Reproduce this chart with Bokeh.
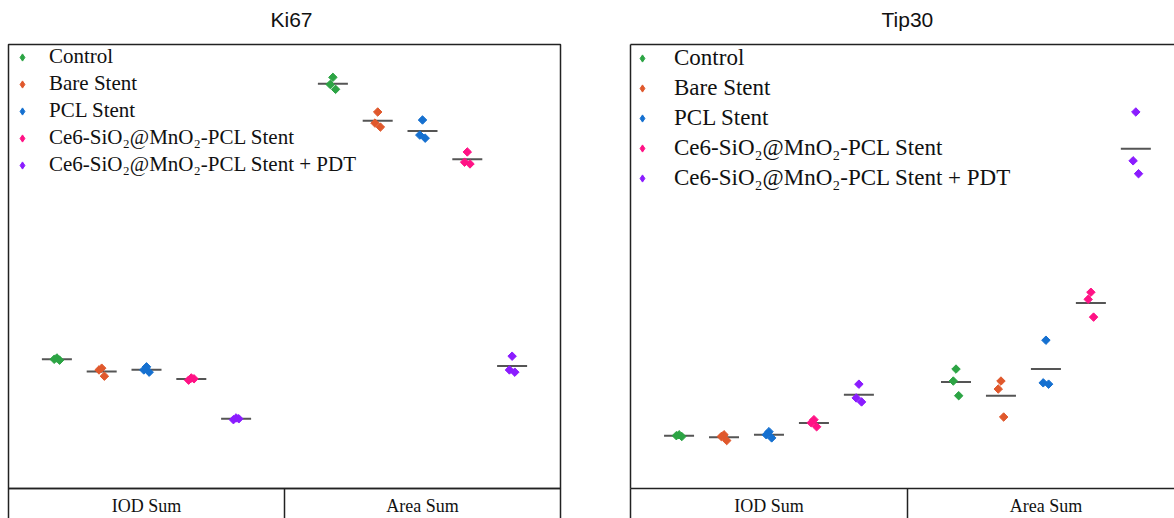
import numpy as np
from bokeh.plotting import figure
from bokeh.models import (FixedTicker, LinearAxis, Range1d, Legend, LegendItem)
from bokeh.layouts import row
from bokeh.embed import file_html
from bokeh.resources import INLINE

# ---------------- data ----------------
groups = ["IOD Sum", "Area Sum"]
treatments = ["Control", "Bare Stent", "PCL Stent",
              "Ce6-SiO\u2082@MnO\u2082-PCL Stent",
              "Ce6-SiO\u2082@MnO\u2082-PCL Stent + PDT"]
colors = ["#2ca444", "#e0582c", "#1570d0", "#ff1285", "#8b1cff"]

# Ki67 (relative units): [IOD Sum replicates], [Area Sum replicates]
ki67_control = [[29.4, 29.1, 28.9], [92.6, 91.0, 89.9]]
ki67_bare    = [[27.1, 26.7, 25.3], [84.8, 82.3, 81.4]]
ki67_pcl     = [[27.4, 26.7, 26.2], [83.0, 79.6, 78.9]]
ki67_ce6     = [[24.9, 24.4, 24.7], [75.8, 73.5, 73.1]]
ki67_pdt     = [[15.9, 15.5, 15.7], [29.8, 26.7, 26.2]]

# Tip30 (relative units)
tip30_control = [[12.1, 11.9, 11.7], [26.9, 24.2, 20.9]]
tip30_bare    = [[12.1, 11.7, 10.8], [24.2, 22.4, 16.1]]
tip30_pcl     = [[12.8, 12.1, 11.4], [33.4, 23.8, 23.5]]
tip30_ce6     = [[15.5, 14.8, 13.9], [44.2, 42.6, 38.6]]
tip30_pdt     = [[23.5, 20.4, 19.5], [84.8, 73.8, 70.9]]

ki67 = [ki67_control, ki67_bare, ki67_pcl, ki67_ce6, ki67_pdt]
tip30 = [tip30_control, tip30_bare, tip30_pcl, tip30_ce6, tip30_pdt]

jitter = [0.0, -0.06, 0.06]

# layout of categorical positions (units = one treatment slot)
EDGE = 1.08
GW = 2 * EDGE + len(treatments) - 1   # width of one group

SERIF = "Liberation Serif"
BORDER = "#222222"


def border_axis(color, gap=False):
    ax = LinearAxis(ticker=FixedTicker(ticks=[]),
                    major_label_text_font_size="0px",
                    major_tick_in=0, major_tick_out=0,
                    minor_tick_in=0, minor_tick_out=0,
                    major_label_standoff=0,
                    axis_line_color=color, axis_line_width=1.5)
    if gap:
        # empty axis label used only as spacing between frame and title
        ax.axis_label = " "
        ax.axis_label_standoff = 0
        ax.axis_label_text_font_size = "5px"
    return ax


def make_panel(title, data, width, x_end, mb_left, mb_right, title_offset,
               leg_font, leg_pad, leg_gw, leg_lh, leg_spacing, leg_standoff,
               outline):
    p = figure(width=width, height=518, output_backend="svg",
               toolbar_location=None, x_range=Range1d(0, x_end),
               y_range=Range1d(0, 100), x_axis_location=None,
               y_axis_location=None, min_border_left=mb_left,
               min_border_right=mb_right, min_border_top=43,
               min_border_bottom=29)
    p.grid.visible = False
    p.title.text = title
    p.title.align = "left"
    p.title.offset = title_offset
    p.title.text_font = "Liberation Sans"
    p.title.text_font_style = "normal"
    p.title.text_font_size = "21px"
    p.title.text_color = "#111111"
    if outline:
        p.outline_line_color = BORDER
        p.outline_line_width = 1.5
        p.outline_line_alpha = 1
        p.add_layout(border_axis(None, gap=True), "above")
    else:
        p.outline_line_color = None
        p.add_layout(border_axis(BORDER), "left")
        p.add_layout(border_axis(BORDER, gap=True), "above")

    centers = [g * GW + GW / 2 for g in range(len(groups))]
    xax = LinearAxis(ticker=FixedTicker(ticks=centers,
                                        minor_ticks=[g * GW for g in range(len(groups) + 1)]),
                     major_tick_in=0, major_tick_out=0,
                     minor_tick_in=0, minor_tick_out=32,
                     minor_tick_line_color=BORDER, minor_tick_line_width=1.5,
                     axis_line_color=BORDER, axis_line_width=1.5,
                     major_label_standoff=-25,
                     major_label_text_font=SERIF,
                     major_label_text_font_size="18px",
                     major_label_text_color="#111111",
                     major_label_overrides={c: g for c, g in zip(centers, groups)})
    p.add_layout(xax, "below")

    items = []
    for ti, (name, col, vals) in enumerate(zip(treatments, colors, data)):
        xs, ys, mx, my = [], [], [], []
        for gi, reps in enumerate(vals):
            base = gi * GW + EDGE + ti
            for k, v in enumerate(reps):
                xs.append(base + jitter[k])
                ys.append(v)
            mx.append(base)
            my.append(float(np.mean(reps)))
        p.scatter(x=mx, y=my, marker="dash", size=30, line_color="#555555",
                  line_width=2)
        p.scatter(x=xs, y=ys, marker="square", angle=np.pi / 4, size=6,
                  fill_color=col, line_color=col, line_width=1)
        # legend key glyph (diamond), not drawn in the plot itself
        lr = p.scatter(x=xs, y=ys, marker="diamond", fill_color=col,
                       line_color=col, line_width=1, visible=False)
        items.append(LegendItem(label=name, renderers=[lr]))

    leg = Legend(items=items, location="top_left", margin=0, padding=leg_pad,
                 glyph_width=leg_gw, glyph_height=18, label_height=leg_lh,
                 spacing=leg_spacing, label_standoff=leg_standoff,
                 label_text_font=SERIF, label_text_font_size=leg_font,
                 label_text_color="#111111",
                 border_line_color=None, background_fill_alpha=0)
    p.add_layout(leg)
    return p


p1 = make_panel("Ki67", ki67, 596, 2 * GW, 8, 36, 262,
                "21px", 6, 28, 24, 2, 13, True)
p2 = make_panel("Tip30", tip30, 578, 12.1, 34, 0, 251,
                "23px", 2, 24, 27, 3, 20, False)

layout = row(p1, p2)
open("out.html", "w").write(file_html(layout, INLINE))
